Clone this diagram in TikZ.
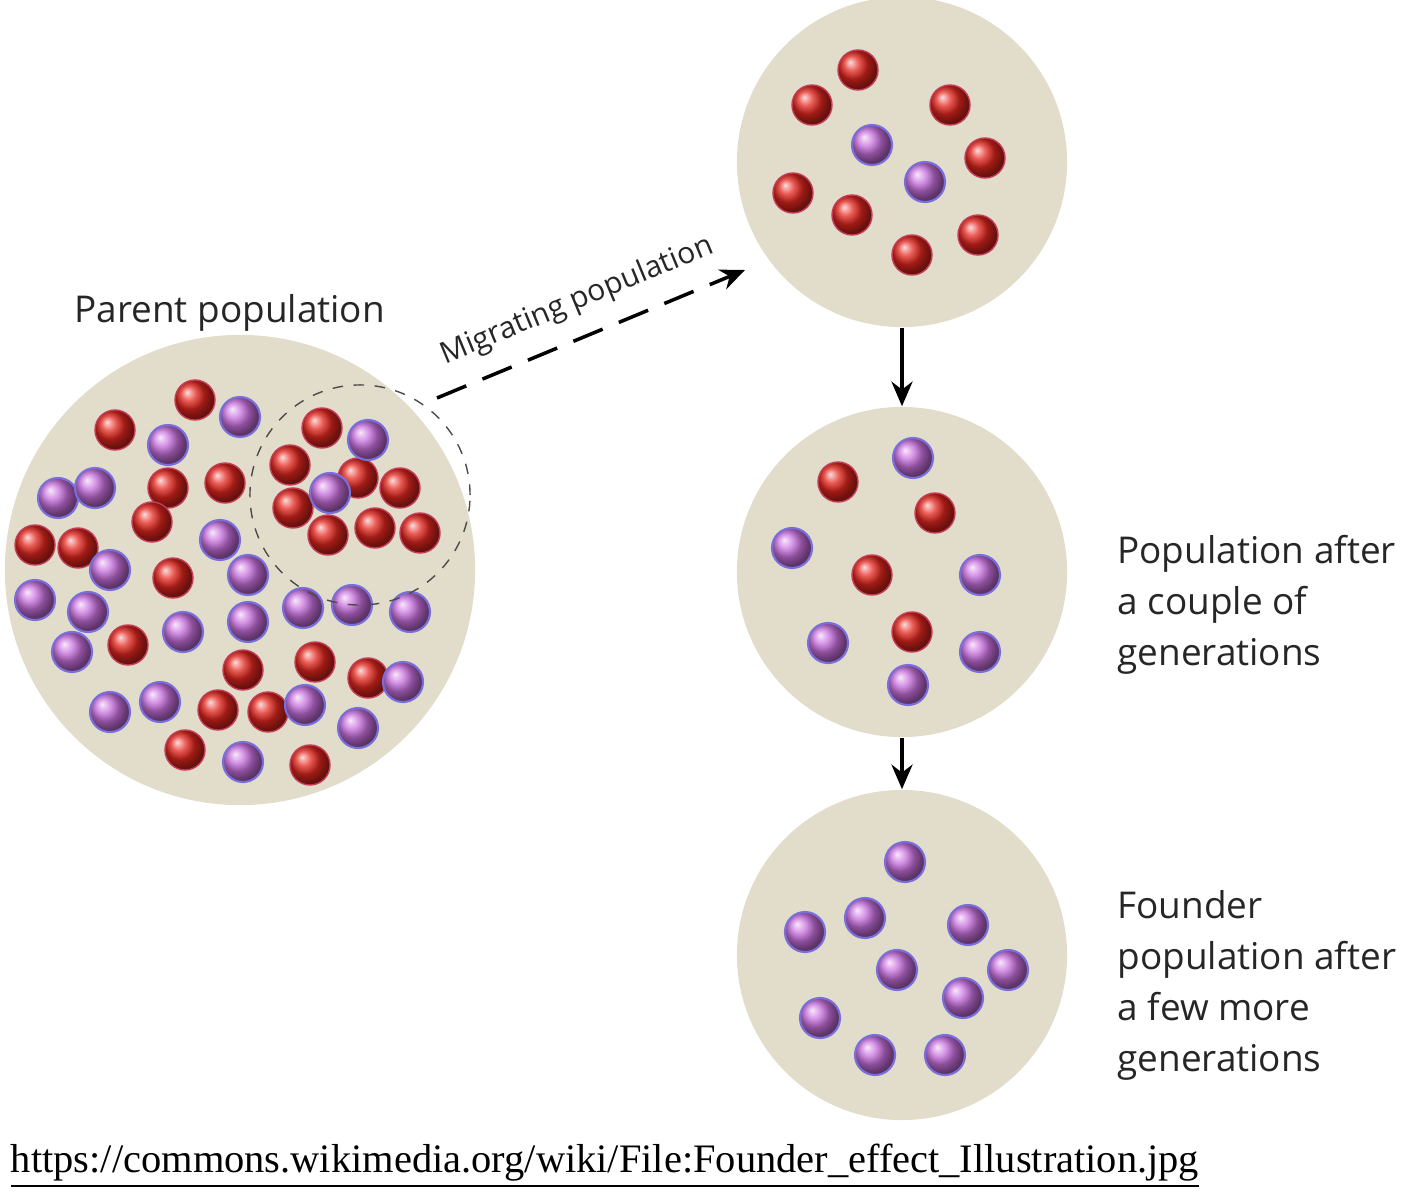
\documentclass[tikz,border=0pt]{standalone}
\usepackage{fontspec}
\setmainfont{Liberation Serif}
\newfontfamily\lab{Open Sans}
\usetikzlibrary{arrows.meta}
\definecolor{beige}{RGB}{226,220,202}
\definecolor{rd}{RGB}{228,38,30}
\definecolor{pu}{RGB}{200,112,222}
\definecolor{ol}{RGB}{120,110,220}
\tikzset{
 pop/.style={circle,fill=beige,draw=none,inner sep=0pt},
 rdot/.style={circle,minimum size=0.4cm,inner sep=0pt,ball color=rd,draw=rd!70!ol,line width=0.4pt},
 pdot/.style={circle,minimum size=0.4cm,inner sep=0pt,ball color=pu,draw=ol,line width=0.6pt},
 lbl/.style={font=\lab\fontsize{10.5}{14.5}\selectfont,text=black!85,align=left},
 arr/.style={-{Stealth[length=7pt,width=6pt]},line width=1pt}
}
\begin{document}
\begin{tikzpicture}[x=0.01cm,y=-0.01cm]
\useasboundingbox (0,0) rectangle (1405,1200);
\node[pop,minimum size=4.7cm] (parent) at (240,570) {};
\node[pop,minimum size=3.3cm] (mig) at (902,162) {};
\node[pop,minimum size=3.3cm] (mid) at (902,572) {};
\node[pop,minimum size=3.3cm] (fnd) at (902,955) {};
\foreach \x/\y in {195/400,115/430,322/428,168/488,225/483,290/465,358/478,400/488,152/522,293/508,328/535,375/528,420/533,35/545,78/548,173/578,128/645,243/670,315/662,368/678,218/710,268/712,185/750,310/765,
858/70,812/105,950/105,985/158,793/193,852/215,978/235,912/255,
838/482,935/513,872/575,912/632}
 \node[rdot] at (\x,\y) {};
\foreach \x/\y in {240/417,368/440,168/445,58/498,95/488,330/493,220/540,110/570,248/575,35/600,88/612,303/608,352/605,410/612,72/652,183/632,248/622,160/702,110/712,305/705,403/682,358/728,243/762,
872/145,925/182,
913/458,792/548,980/575,828/643,980/652,908/685,
905/862,805/932,865/918,968/925,897/970,1008/970,963/998,820/1018,875/1055,945/1055}
 \node[pdot] at (\x,\y) {};
\node[circle,draw=black!70,dashed,minimum size=2.2cm,inner sep=0pt] (dc) at (360,495) {};
\coordinate (mstart) at (437,398);
\coordinate (mend) at (745,270);
\draw[arr,dashed,dash pattern=on 9pt off 5pt] (mstart) -- (mend)
  node[midway,above=2pt,sloped,font=\lab\fontsize{8.5}{10}\selectfont,text=black!85] {Migrating population};
\draw[arr] (mig) -- (mid);
\draw[arr] (mid) -- (fnd);
\node[lbl,anchor=west] (pl) at (62,313) {Parent population};
\node[lbl,anchor=west] (ml) at (1105,605) {Population after\\a couple of\\generations};
\node[lbl,anchor=west] (fl) at (1105,985) {Founder\\population after\\a few more\\generations};
\node[font=\fontsize{11.5}{13}\selectfont] (url) at (605,1166) {\underline{https://commons.wikimedia.org/wiki/File:Founder\_effect\_Illustration.jpg}};
\end{tikzpicture}
\end{document}
